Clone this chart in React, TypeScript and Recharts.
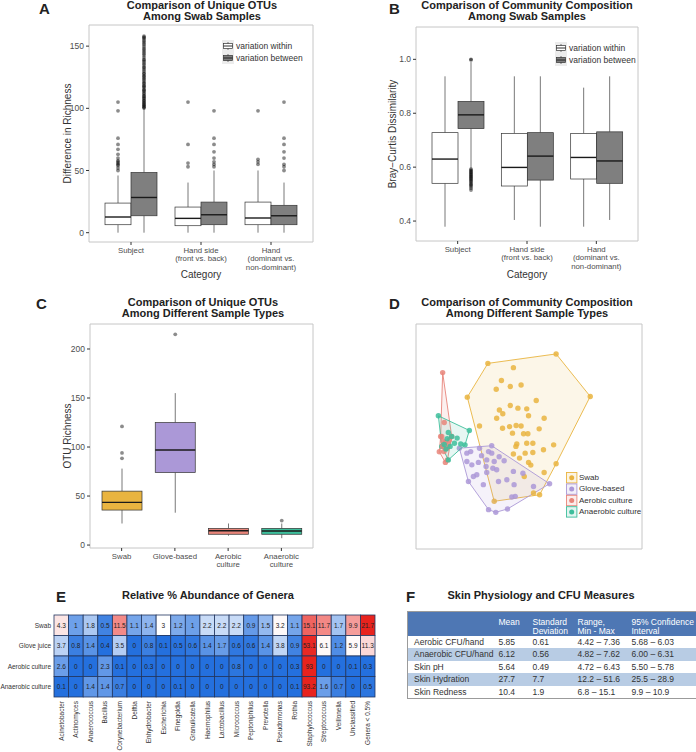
import React from "react";
import {
  ComposedChart,
  Bar,
  XAxis,
  YAxis,
  CartesianGrid,
  ScatterChart,
  Scatter,
} from "recharts";

const FONT = '"Liberation Sans", Arial, Helvetica, sans-serif';

interface Box {
  lo: number;
  q1: number;
  med: number;
  q3: number;
  hi: number;
  out: number[];
}

// ---- A: unique OTUs among swab samples ----
const swabCategories = ["Subject", "Hand side\n(front vs. back)", "Hand\n(dominant vs.\nnon-dominant)"];

const richnessWithin: Box[] = [
  { lo: 0, q1: 6.4, med: 12.6, q3: 23.8, hi: 46, out: [50, 52, 54, 55, 56, 57, 58, 60, 63, 67, 71, 76, 98, 105] },
  { lo: 0, q1: 5.6, med: 11.5, q3: 20.6, hi: 40.3, out: [53, 56, 71, 105] },
  { lo: 0, q1: 6.4, med: 11.8, q3: 24.6, hi: 50, out: [55, 57, 59, 98] },
];

const richnessBetween: Box[] = [
  {
    lo: 0, q1: 13.6, med: 28.3, q3: 48.4, hi: 100,
    out: [100.2, 100.9, 101.5, 102.4, 103.1, 104, 104.8, 105.9, 106.5, 107.7, 108.4, 109.6, 110.2, 111.5, 112.3,
      113.8, 114.6, 115.4, 116.9, 117.7, 118.5, 119.8, 120.6, 121.9, 123.1, 124.2, 125.4, 126.1, 127.6, 128.3,
      129.9, 131.2, 132.6, 133.4, 134.9, 136.1, 137.5, 138.7, 139.6, 141.2, 142.8, 144.1, 145.5, 146.9, 148.2,
      149.7, 151.3, 152.6, 153.9, 155.1, 156.4, 157.2, 158],
  },
  { lo: 0, q1: 6.4, med: 14.4, q3: 24.6, hi: 50, out: [53, 55, 57, 60, 65, 71, 76, 98] },
  { lo: 0, q1: 6.4, med: 13.6, q3: 22, hi: 40.3, out: [50, 53, 55, 60, 65, 71, 76, 105] },
];
const richnessTicks = [0, 50, 100, 150];

// ---- B: Bray-Curtis among swab samples ----
const brayWithin: Box[] = [
  { lo: 0.379, q1: 0.54, med: 0.63, q3: 0.728, hi: 0.937, out: [] },
  { lo: 0.404, q1: 0.53, med: 0.599, q3: 0.725, hi: 0.937, out: [] },
  { lo: 0.379, q1: 0.556, med: 0.636, q3: 0.725, hi: 0.895, out: [] },
];
const brayBetween: Box[] = [
  {
    lo: 0.596, q1: 0.743, med: 0.794, q3: 0.844, hi: 0.99,
    out: [0.515, 0.522, 0.528, 0.533, 0.537, 0.541, 0.546, 0.55, 0.554, 0.558, 0.561, 0.565, 0.568, 0.572,
      0.575, 0.579, 0.582, 0.586, 0.589, 0.593, 0.998, 1.0],
  },
  { lo: 0.379, q1: 0.552, med: 0.641, q3: 0.728, hi: 0.937, out: [] },
  { lo: 0.404, q1: 0.54, med: 0.623, q3: 0.731, hi: 0.937, out: [] },
];
const brayTicks = [0.4, 0.6, 0.8, 1.0];

// ---- C: OTU richness by sample type ----
const sampleTypes = ["Swab", "Glove-based", "Aerobic\nculture", "Anaerobic\nculture"];
const sampleRichness: Box[] = [
  { lo: 22, q1: 35.7, med: 43.5, q3: 55, hi: 78, out: [88.5, 94, 121] },
  { lo: 33, q1: 74, med: 97, q3: 125, hi: 155, out: [215] },
  { lo: 9.5, q1: 11, med: 14.6, q3: 17, hi: 22, out: [] },
  { lo: 7, q1: 11, med: 14.3, q3: 17, hi: 22, out: [25] },
];
const sampleTicks = [0, 50, 100, 150, 200];

// ---- D: ordination (convex hull vertices in order, plus inner points) ----
const swabHull = [
  { x: 22.7, y: 67.5 }, { x: 31.8, y: 82.5 }, { x: 62.0, y: 86.7 }, { x: 77.1, y: 67.8 },
  { x: 62.0, y: 37.9 }, { x: 54.7, y: 24.1 }, { x: 34.6, y: 21.2 },
];
const swabPts = [
  { x: 43.1, y: 80.6 }, { x: 37.8, y: 74.9 }, { x: 41.7, y: 72.2 }, { x: 46.5, y: 72.9 }, { x: 35.5, y: 71.0 },
  { x: 53.2, y: 66.0 }, { x: 41.7, y: 63.8 }, { x: 45.1, y: 62.6 }, { x: 49.0, y: 62.3 }, { x: 36.9, y: 61.8 },
  { x: 38.4, y: 60.1 }, { x: 49.8, y: 59.2 }, { x: 56.7, y: 58.1 }, { x: 35.7, y: 58.1 }, { x: 28.1, y: 54.7 },
  { x: 41.4, y: 54.4 }, { x: 38.3, y: 53.7 }, { x: 44.3, y: 54.9 }, { x: 46.5, y: 54.7 }, { x: 54.5, y: 53.4 },
  { x: 42.7, y: 51.5 }, { x: 47.6, y: 51.2 }, { x: 49.5, y: 51.2 }, { x: 44.6, y: 46.7 }, { x: 49.0, y: 47.0 },
  { x: 51.7, y: 47.0 }, { x: 60.9, y: 46.3 }, { x: 44.2, y: 45.6 }, { x: 56.4, y: 44.1 }, { x: 48.3, y: 42.6 },
  { x: 51.7, y: 42.9 }, { x: 43.1, y: 42.2 }, { x: 45.8, y: 40.4 }, { x: 49.8, y: 38.5 }, { x: 50.8, y: 37.3 },
  { x: 56.7, y: 34.0 }, { x: 47.9, y: 32.2 }, { x: 52.0, y: 24.9 },
];
const gloveHull = [
  { x: 19.2, y: 44.8 }, { x: 33.5, y: 45.9 }, { x: 59.1, y: 29.0 }, { x: 40.5, y: 17.8 },
  { x: 35.3, y: 16.3 }, { x: 32.1, y: 17.5 }, { x: 23.2, y: 30.0 },
];
const glovePts = [
  { x: 22.5, y: 42.6 }, { x: 24.2, y: 43.3 }, { x: 28.1, y: 44.8 }, { x: 32.1, y: 43.3 }, { x: 33.5, y: 42.6 },
  { x: 22.5, y: 38.9 }, { x: 24.7, y: 37.4 }, { x: 27.6, y: 38.5 }, { x: 31.3, y: 39.6 }, { x: 34.6, y: 38.9 },
  { x: 39.0, y: 39.2 }, { x: 31.0, y: 36.7 }, { x: 34.0, y: 35.9 }, { x: 35.7, y: 35.2 }, { x: 31.3, y: 34.0 },
  { x: 43.1, y: 34.5 }, { x: 47.3, y: 33.7 }, { x: 26.9, y: 33.0 }, { x: 25.4, y: 32.2 }, { x: 29.8, y: 28.6 },
  { x: 36.5, y: 30.0 }, { x: 40.2, y: 30.8 }, { x: 43.4, y: 28.6 }, { x: 52.0, y: 27.8 }, { x: 43.9, y: 23.4 },
  { x: 42.4, y: 23.1 }, { x: 29.0, y: 41.5 }, { x: 36.8, y: 41.0 },
];
const aerobicHull = [
  { x: 11.8, y: 78.4 }, { x: 15.8, y: 50.0 }, { x: 13.9, y: 39.6 }, { x: 13.0, y: 38.5 },
  { x: 10.3, y: 43.2 }, { x: 10.9, y: 50.0 },
];
const aerobicPts = [
  { x: 12.5, y: 56.2 }, { x: 11.4, y: 50.0 }, { x: 12.9, y: 47.3 }, { x: 14.3, y: 46.7 }, { x: 11.8, y: 45.6 },
  { x: 13.6, y: 44.8 }, { x: 12.4, y: 43.3 }, { x: 14.8, y: 48.5 }, { x: 12.0, y: 48.0 },
];
const anaerobicHull = [
  { x: 9.9, y: 59.2 }, { x: 23.6, y: 52.7 }, { x: 21.7, y: 46.3 }, { x: 14.3, y: 39.6 }, { x: 11.4, y: 45.6 },
];
const anaerobicPts = [
  { x: 14.3, y: 51.8 }, { x: 15.8, y: 50.0 }, { x: 18.2, y: 49.3 }, { x: 17.0, y: 47.0 }, { x: 15.1, y: 45.6 },
  { x: 13.3, y: 44.4 }, { x: 19.8, y: 46.7 }, { x: 12.5, y: 46.5 }, { x: 13.8, y: 49.0 },
];

// ---- E: relative abundance heatmap ----
const genera = [
  "Acinetobacter", "Actinomyces", "Anaerococcus", "Bacillus", "Corynebacterium", "Delftia", "Enhydrobacter",
  "Escherichia", "Finegoldia", "Granulicatella", "Haemophilus", "Lactobacillus", "Micrococcus", "Peptoniphilus",
  "Prevotella", "Pseudomonas", "Rothia", "Staphylococcus", "Streptococcus", "Veillonella", "Unclassified",
  "Genera < 0.5%",
];
const heatRows = ["Swab", "Glove juice", "Aerobic culture", "Anaerobic culture"];
const swabAbundance = [4.3, 1, 1.8, 0.5, 11.5, 1.1, 1.4, 3, 1.2, 1, 2.2, 2.2, 2.2, 0.9, 1.5, 3.2, 1.1, 15.1, 11.7, 1.7, 9.9, 21.7];
const gloveAbundance = [3.7, 0.8, 1.4, 0.4, 3.5, 0, 0.8, 0.1, 0.5, 0.6, 1.4, 1.7, 0.6, 0.6, 1.4, 3.8, 0.9, 53.1, 6.1, 1.2, 5.9, 11.3];
const aerobicAbundance = [2.6, 0, 0, 2.3, 0.1, 0, 0.3, 0, 0, 0, 0, 0, 0.8, 0, 0, 0, 0.3, 93, 0, 0, 0.1, 0.3];
const anaerobicAbundance = [0.1, 0, 1.4, 1.4, 0.7, 0, 0, 0, 0.1, 0, 0, 0, 0, 0, 0, 0, 0.1, 93.2, 1.6, 0.7, 0, 0.5];
const abundance = [swabAbundance, gloveAbundance, aerobicAbundance, anaerobicAbundance];

// ---- F: table ----
const tableHeader = ["", "Mean", "Standard\nDeviation", "Range,\nMin - Max", "95% Confidence\nInterval"];
const measures = ["Aerobic CFU/hand", "Anaerobic CFU/hand", "Skin pH", "Skin Hydration", "Skin Redness"];
const means = ["5.85", "6.12", "5.64", "27.7", "10.4"];
const sds = ["0.61", "0.56", "0.49", "7.7", "1.9"];
const ranges = ["4.42 – 7.36", "4.82 – 7.62", "4.72 – 6.43", "12.2 – 51.6", "6.8 – 15.1"];
const cis = ["5.68 – 6.03", "6.00 – 6.31", "5.50 – 5.78", "25.5 – 28.9", "9.9 – 10.9"];

// ---------- styles ----------
const typeColors = ["#E9B440", "#AB98D7", "#E8857A", "#3DBE9B"];
const heatScale = [
  { white: 3, red: 21.7 },
  { white: 5.5, red: 55 },
  { white: 8, red: 90 },
  { white: 5, red: 90 },
];

const mix = (a: number[], b: number[], t: number) => {
  const c = a.map((v, i) => Math.round(v + (b[i] - v) * t));
  return `rgb(${c[0]},${c[1]},${c[2]})`;
};
const BLUE = [36, 112, 222];
const WHITE = [255, 255, 255];
const RED = [232, 35, 30];
const heatColor = (v: number, row: number) => {
  const s = heatScale[row];
  if (v <= s.white) {
    const t = Math.max(0, (v / s.white - 0.08) / 0.92);
    return mix(BLUE, WHITE, Math.pow(t, 0.85));
  }
  const t = Math.min(1, (v - s.white) / (s.red - s.white));
  return mix(WHITE, RED, Math.pow(t, 0.8));
};

const makeBox = (key: string, fill: (i: number) => string) => (props: any) => {
  const { x, y, width, height, payload, index } = props;
  const s: Box = payload[key];
  const top = Math.min(y, y + height);
  const h = Math.abs(height);
  const k = h / (s.hi - s.lo);
  const py = (v: number) => top + (s.hi - v) * k;
  const cx = x + width / 2;
  return (
    <g>
      <line x1={cx} x2={cx} y1={py(s.hi)} y2={py(s.q3)} stroke="#555" strokeWidth={0.8} />
      <line x1={cx} x2={cx} y1={py(s.q1)} y2={py(s.lo)} stroke="#555" strokeWidth={0.8} />
      <rect x={x} y={py(s.q3)} width={width} height={py(s.q1) - py(s.q3)} fill={fill(index)} stroke="#333" strokeWidth={0.7} />
      <line x1={x} x2={x + width} y1={py(s.med)} y2={py(s.med)} stroke="#1a1a1a" strokeWidth={1.4} />
      {s.out.map((v, i) => (
        <circle key={i} cx={cx} cy={py(v)} r={1.9} fill="#000" fillOpacity={0.45} />
      ))}
    </g>
  );
};

const CategoryTick = (props: any) => {
  const { x, y, payload } = props;
  const lines = String(payload.value).split("\n");
  return (
    <g>
      {lines.map((l, i) => (
        <text key={i} x={x} y={y + 6 + i * 8.4} textAnchor="middle" fontSize={7.8} fill="#4d4d4d" fontFamily={FONT}>
          {l}
        </text>
      ))}
    </g>
  );
};

const GenusTick = (props: any) => {
  const { x, y, payload } = props;
  return (
    <text x={x} y={y} transform={`rotate(-90 ${x} ${y})`} textAnchor="end" dy={2.3} fontSize={6.5} fill="#333" fontFamily={FONT}>
      {payload.value}
    </text>
  );
};

const RowTick = (props: any) => {
  const { x, y, payload } = props;
  return (
    <text x={x} y={y} dy={2.3} textAnchor="end" fontSize={6.5} fill="#333" fontFamily={FONT}>
      {payload.value}
    </text>
  );
};

const axisTick = { fontSize: 8.5, fill: "#4d4d4d", fontFamily: FONT };
const axisTitle = { fontSize: 10, fill: "#333", fontFamily: FONT };

interface BoxPanelProps {
  left: number;
  top: number;
  width: number;
  height: number;
  margin: { top: number; right: number; bottom: number; left: number };
  yWidth: number;
  xHeight: number;
  pad: number;
  data: any[];
  domain: [number, number];
  ticks: number[];
  yTitle: string;
  xTitle?: string;
  fmt?: (v: number) => string;
  children: React.ReactNode;
}

const BoxPanel = (p: BoxPanelProps) => {
  const l = p.margin.left + p.yWidth;
  const r = p.width - p.margin.right;
  const t = p.margin.top;
  const b = p.height - p.margin.bottom - p.xHeight;
  return (
    <div style={{ position: "absolute", left: p.left, top: p.top }}>
      <ComposedChart width={p.width} height={p.height} data={p.data} margin={p.margin} barGap={0}>
        <CartesianGrid horizontalPoints={[t, b]} verticalPoints={[l, r]} stroke="#c6c6c6" strokeWidth={1} />
        <XAxis
          dataKey="name"
          type="category"
          height={p.xHeight}
          padding={{ left: p.pad, right: p.pad }}
          tick={<CategoryTick />}
          tickSize={3}
          tickLine={{ stroke: "#333" }}
          axisLine={false}
          interval={0}
          label={p.xTitle ? { value: p.xTitle, position: "insideBottom", offset: 0, style: axisTitle } : undefined}
        />
        <YAxis
          type="number"
          domain={p.domain}
          ticks={p.ticks}
          allowDataOverflow
          width={p.yWidth}
          tick={axisTick}
          tickSize={3}
          tickMargin={2}
          tickLine={{ stroke: "#333" }}
          axisLine={false}
          tickFormatter={p.fmt}
          label={{ value: p.yTitle, angle: -90, position: "center", style: axisTitle }}
        />
        {p.children}
      </ComposedChart>
    </div>
  );
};

const TitleText = ({ cx, top, lines, size = 11 }: { cx: number; top: number; lines: string[]; size?: number }) => (
  <div
    style={{
      position: "absolute", left: cx - 170, width: 340, top, textAlign: "center",
      fontWeight: "bold", fontSize: size, lineHeight: "11px", color: "#222",
    }}
  >
    {lines.map((s) => (
      <div key={s}>{s}</div>
    ))}
  </div>
);

const Letter = ({ x, y, c }: { x: number; y: number; c: string }) => (
  <div style={{ position: "absolute", left: x, top: y, fontWeight: "bold", fontSize: 15, lineHeight: "15px", color: "#222" }}>{c}</div>
);

const SwabLegend = ({ left, top }: { left: number; top: number }) => (
  <div style={{ position: "absolute", left, top }}>
    <svg width={110} height={26} style={{ position: "absolute", left: 0, top: 0 }}>
      <rect x={0} y={0} width={12} height={24} fill="#ececec" />
      {[0, 1].map((i) => (
        <g key={i}>
          <line x1={6} x2={6} y1={2 + i * 12} y2={10 + i * 12} stroke="#555" strokeWidth={0.8} />
          <rect x={1.5} y={3.5 + i * 12} width={9} height={5} fill={i === 0 ? "#fff" : "#7f7f7f"} stroke="#333" strokeWidth={0.7} />
          <line x1={1.5} x2={10.5} y1={6 + i * 12} y2={6 + i * 12} stroke="#1a1a1a" strokeWidth={0.9} />
        </g>
      ))}
    </svg>
    <div style={{ position: "absolute", left: 14, top: 0, fontSize: 8.5, lineHeight: "12px", color: "#333", whiteSpace: "nowrap" }}>
      <div>variation within</div>
      <div>variation between</div>
    </div>
  </div>
);

const TypeLegend = ({ left, top }: { left: number; top: number }) => {
  const labels = ["Swab", "Glove-based", "Aerobic culture", "Anaerobic culture"];
  return (
    <div style={{ position: "absolute", left, top }}>
      <svg width={14} height={48} style={{ position: "absolute", left: 0, top: 0 }}>
        {labels.map((_, i) => (
          <g key={i}>
            <rect x={0.5} y={0.5 + i * 11.4} width={10.4} height={10.4} fill={typeColors[i]} fillOpacity={0.15} stroke={typeColors[i]} strokeWidth={0.9} />
            <circle cx={5.7} cy={5.7 + i * 11.4} r={2.5} fill={typeColors[i]} />
          </g>
        ))}
      </svg>
      <div style={{ position: "absolute", left: 13, top: 0, fontSize: 8, lineHeight: "11.4px", color: "#333", whiteSpace: "nowrap" }}>
        {labels.map((s) => (
          <div key={s}>{s}</div>
        ))}
      </div>
    </div>
  );
};

const hullLine = (color: string) => (props: any) => {
  const pts = props.points || [];
  const d = pts.map((q: any, i: number) => `${i ? "L" : "M"}${q.x},${q.y}`).join("") + "Z";
  return <path d={d} fill={color} fillOpacity={0.12} stroke={color} strokeWidth={0.9} />;
};
const dot = (color: string) => (props: any) => (
  <circle cx={props.cx} cy={props.cy} r={2.7} fill={color} fillOpacity={0.85} />
);

// heatmap geometry
const HM = { width: 380, height: 147, top: 10, right: 5, yW: 54, xH: 55 };
const hmPlotW = HM.width - HM.right - HM.yW;
const hmPlotH = HM.height - HM.top - HM.xH;
const cellW = hmPlotW / genera.length;
const cellH = hmPlotH / heatRows.length;

const heatCells = heatRows.flatMap((row, ri) =>
  genera.map((g, gi) => ({ genus: g, row, value: abundance[ri][gi], ri }))
);

const HeatCell = (props: any) => {
  const { cx, cy, payload } = props;
  return (
    <g>
      <rect x={cx - cellW / 2} y={cy - cellH / 2} width={cellW} height={cellH} fill={heatColor(payload.value, payload.ri)} stroke="#22365f" strokeWidth={0.8} />
      <text x={cx} y={cy + 2.3} textAnchor="middle" fontSize={6.5} fill="#222" fontFamily={FONT}>
        {payload.value}
      </text>
    </g>
  );
};

export default function App() {
  const swabRichData = swabCategories.map((name, i) => ({ name, within: richnessWithin[i], between: richnessBetween[i] }));
  const swabBrayData = swabCategories.map((name, i) => ({ name, within: brayWithin[i], between: brayBetween[i] }));
  const typeData = sampleTypes.map((name, i) => ({ name, box: sampleRichness[i] }));

  const colW = [88, 34, 45, 54, 68];
  const cellStyle: React.CSSProperties = { padding: "0 0 0 3px", height: 12.4, lineHeight: "12.4px", fontSize: 8.5, color: "#333", whiteSpace: "nowrap" };

  return (
    <div style={{ position: "absolute", left: 0, top: 0, width: 696, height: 752, background: "#fff", fontFamily: FONT, overflow: "hidden" }}>
      {/* A */}
      <Letter x={39} y={1} c="A" />
      <TitleText cx={202} top={0} lines={["Comparison of Unique OTUs", "Among Swab Samples"]} />
      <BoxPanel
        left={0} top={0} width={330} height={280}
        margin={{ top: 25, right: 17, bottom: 2, left: 45 }}
        yWidth={44} xHeight={36} pad={7}
        data={swabRichData} domain={[-7.5, 167]} ticks={richnessTicks}
        yTitle="Difference in Richness" xTitle="Category"
      >
        <Bar dataKey={(d: any) => [d.within.lo, d.within.hi]} barSize={26} isAnimationActive={false} shape={makeBox("within", () => "#ffffff")} />
        <Bar dataKey={(d: any) => [d.between.lo, d.between.hi]} barSize={26} isAnimationActive={false} shape={makeBox("between", () => "#7f7f7f")} />
      </BoxPanel>
      <SwabLegend left={222} top={40} />

      {/* B */}
      <Letter x={389} y={1} c="B" />
      <TitleText cx={527} top={0} lines={["Comparison of Community Composition", "Among Swab Samples"]} />
      <BoxPanel
        left={340} top={0} width={320} height={280}
        margin={{ top: 27, right: 22, bottom: 2, left: 28 }}
        yWidth={48} xHeight={37} pad={7}
        data={swabBrayData} domain={[0.326, 1.12]} ticks={brayTicks}
        yTitle="Bray−Curtis Dissimilarity" xTitle="Category" fmt={(v) => v.toFixed(1)}
      >
        <Bar dataKey={(d: any) => [d.within.lo, d.within.hi]} barSize={26} isAnimationActive={false} shape={makeBox("within", () => "#ffffff")} />
        <Bar dataKey={(d: any) => [d.between.lo, d.between.hi]} barSize={26} isAnimationActive={false} shape={makeBox("between", () => "#7f7f7f")} />
      </BoxPanel>
      <SwabLegend left={555} top={42} />

      {/* C */}
      <Letter x={36} y={296} c="C" />
      <TitleText cx={203} top={297} lines={["Comparison of Unique OTUs", "Among Different Sample Types"]} />
      <BoxPanel
        left={0} top={280} width={330} height={300}
        margin={{ top: 44, right: 17, bottom: 2, left: 44 }}
        yWidth={46} xHeight={30} pad={5}
        data={typeData} domain={[-3, 225.5]} ticks={sampleTicks}
        yTitle="OTU Richness"
      >
        <Bar dataKey={(d: any) => [d.box.lo, d.box.hi]} barSize={40} isAnimationActive={false} shape={makeBox("box", (i) => typeColors[i])} />
      </BoxPanel>

      {/* D */}
      <Letter x={389} y={296} c="D" />
      <TitleText cx={527} top={297} lines={["Comparison of Community Composition", "Among Different Sample Types"]} />
      <div style={{ position: "absolute", left: 340, top: 280 }}>
        <ScatterChart width={356} height={300} margin={{ top: 44, right: 54, bottom: 31, left: 76 }}>
          <CartesianGrid horizontalPoints={[44, 269]} verticalPoints={[76, 302]} stroke="#c6c6c6" />
          <XAxis type="number" dataKey="x" domain={[0, 100]} hide />
          <YAxis type="number" dataKey="y" domain={[0, 100]} hide />
          <Scatter data={swabHull} line={hullLine(typeColors[0])} lineType="joint" shape={dot(typeColors[0])} isAnimationActive={false} />
          <Scatter data={gloveHull} line={hullLine(typeColors[1])} lineType="joint" shape={dot(typeColors[1])} isAnimationActive={false} />
          <Scatter data={aerobicHull} line={hullLine(typeColors[2])} lineType="joint" shape={dot(typeColors[2])} isAnimationActive={false} />
          <Scatter data={anaerobicHull} line={hullLine(typeColors[3])} lineType="joint" shape={dot(typeColors[3])} isAnimationActive={false} />
          <Scatter data={swabPts} shape={dot(typeColors[0])} isAnimationActive={false} />
          <Scatter data={glovePts} shape={dot(typeColors[1])} isAnimationActive={false} />
          <Scatter data={aerobicPts} shape={dot(typeColors[2])} isAnimationActive={false} />
          <Scatter data={anaerobicPts} shape={dot(typeColors[3])} isAnimationActive={false} />
        </ScatterChart>
      </div>
      <TypeLegend left={566} top={472} />

      {/* E */}
      <Letter x={56} y={589} c="E" />
      <TitleText cx={208} top={590} lines={["Relative % Abundance of Genera"]} />
      <div style={{ position: "absolute", left: 0, top: 605 }}>
        <ScatterChart width={HM.width} height={HM.height} margin={{ top: HM.top, right: HM.right, bottom: 0, left: 0 }}>
          <XAxis
            type="category" dataKey="genus" allowDuplicatedCategory={false} interval={0}
            height={HM.xH} tick={<GenusTick />} tickLine={false} axisLine={false} tickSize={0} tickMargin={4}
          />
          <YAxis
            type="category" dataKey="row" allowDuplicatedCategory={false} interval={0} reversed
            width={HM.yW} tick={<RowTick />} tickLine={false} axisLine={false} tickSize={0} tickMargin={3}
          />
          <Scatter data={heatCells} shape={<HeatCell />} isAnimationActive={false} />
        </ScatterChart>
      </div>

      {/* F */}
      <Letter x={406} y={589} c="F" />
      <TitleText cx={541} top={590} lines={["Skin Physiology and CFU Measures"]} />
      <table
        style={{
          position: "absolute", left: 407, top: 611, width: 289, borderCollapse: "collapse",
          border: "1px solid #9b9b9b", tableLayout: "fixed", fontFamily: FONT,
        }}
      >
        <colgroup>
          {colW.map((w, i) => (
            <col key={i} style={{ width: w }} />
          ))}
        </colgroup>
        <thead>
          <tr style={{ background: "#4E77B4", height: 23 }}>
            {tableHeader.map((h, i) => (
              <th
                key={i}
                style={{
                  padding: "6px 0 0 3px", verticalAlign: "top", textAlign: "left", fontWeight: "normal",
                  fontSize: 8.5, lineHeight: "9px", color: "#fff", whiteSpace: "pre",
                }}
              >
                {h}
              </th>
            ))}
          </tr>
        </thead>
        <tbody>
          {measures.map((m, i) => (
            <tr key={m} style={{ background: i % 2 === 1 ? "#B8CCE4" : "#ffffff" }}>
              <td style={{ ...cellStyle, paddingLeft: 6 }}>{m}</td>
              <td style={cellStyle}>{means[i]}</td>
              <td style={cellStyle}>{sds[i]}</td>
              <td style={cellStyle}>{ranges[i]}</td>
              <td style={cellStyle}>{cis[i]}</td>
            </tr>
          ))}
        </tbody>
      </table>
    </div>
  );
}
